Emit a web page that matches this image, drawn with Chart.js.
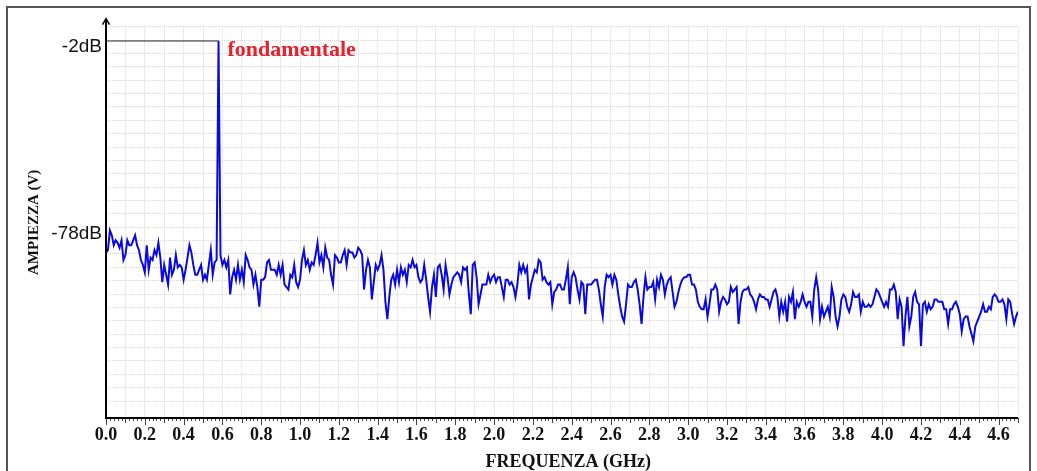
<!DOCTYPE html>
<html>
<head>
<meta charset="utf-8">
<script src="https://cdn.jsdelivr.net/npm/chart.js@4"></script>
<style>
  html, body { margin: 0; padding: 0; background: #fff; }
  #wrap { position: relative; width: 1037px; height: 471px; overflow: hidden; }
  #frame { position: absolute; left: 6px; top: 6px; width: 1025px; height: 480px; border: 2px solid #555; box-sizing: border-box; }
  canvas { position: absolute; left: 0; top: 0; }
</style>
</head>
<body>
<div id="wrap">
  <div id="frame"></div>
  <canvas id="spectrum" width="1037" height="471"></canvas>
</div>
<script>
// --- Data ---
const freqStep = 0.01; // GHz between spectrum bins
const amplitudeDb = [
  -88, -87, -79, -81, -85, -83, -84, -86, -83, -91,
  -89, -83, -85, -85, -83, -81, -85, -87, -91, -93,
  -96, -85, -95, -90, -91, -87, -89, -84, -90, -100,
  -93, -97, -101, -90, -97, -95, -89, -94, -93, -94,
  -99, -95, -90, -85, -88, -93, -97, -97, -95, -93,
  -99, -97, -99, -93, -87, -97, -92, -91, -2, -89,
  -93, -91, -94, -91, -105, -98, -95, -99, -93, -99,
  -95, -100, -89, -91, -94, -95, -101, -97, -102, -110,
  -99, -99, -98, -92, -91, -95, -95, -95, -97, -93,
  -97, -93, -101, -102, -103, -97, -98, -93, -100, -102,
  -99, -91, -87, -93, -91, -95, -92, -93, -89, -84,
  -92, -89, -94, -86, -90, -91, -97, -101, -89, -90,
  -92, -92, -89, -87, -93, -87, -88, -88, -90, -89,
  -86, -87, -89, -103, -95, -91, -94, -107, -100, -93,
  -95, -93, -89, -95, -108, -115, -106, -99, -97, -101,
  -95, -100, -94, -97, -95, -100, -93, -94, -91, -94,
  -93, -98, -100, -99, -93, -99, -106, -112, -102, -97,
  -106, -94, -93, -97, -103, -93, -98, -105, -101, -98,
  -97, -96, -97, -100, -94, -95, -94, -105, -113, -93,
  -92, -98, -109, -105, -101, -101, -101, -97, -100, -98,
  -97, -100, -98, -98, -102, -106, -99, -99, -101, -100,
  -102, -106, -101, -93, -96, -93, -96, -94, -107, -101,
  -98, -95, -96, -91, -92, -99, -98, -100, -101, -100,
  -109, -104, -103, -101, -101, -103, -103, -99, -94, -109,
  -98, -96, -98, -103, -107, -100, -101, -113, -101, -101,
  -101, -100, -99, -99, -103, -109, -114, -102, -97, -98,
  -97, -101, -97, -99, -105, -110, -114, -116, -109, -101,
  -102, -102, -100, -99, -103, -109, -117, -106, -98, -103,
  -102, -102, -100, -107, -99, -102, -97, -99, -105, -101,
  -99, -98, -104, -110, -108, -104, -101, -99, -98, -98,
  -97, -97, -101, -101, -103, -108, -110, -111, -111, -107,
  -114, -109, -103, -103, -101, -103, -112, -108, -106, -107,
  -109, -108, -102, -104, -103, -102, -117, -108, -104, -103,
  -103, -102, -105, -106, -108, -111, -107, -105, -106, -106,
  -107, -107, -110, -107, -104, -103, -106, -114, -108, -112,
  -108, -116, -106, -108, -104, -115, -108, -110, -108, -105,
  -108, -110, -108, -108, -114, -103, -98, -103, -115, -110,
  -114, -112, -110, -114, -102, -106, -114, -118, -114, -107,
  -105, -106, -110, -112, -109, -104, -106, -106, -105, -112,
  -108, -110, -110, -109, -110, -109, -106, -103, -104, -106,
  -108, -110, -108, -110, -103, -103, -101, -104, -115, -107,
  -110, -126, -114, -106, -118, -114, -106, -104, -108, -109,
  -126, -109, -108, -112, -109, -111, -110, -107, -107, -108,
  -108, -108, -111, -111, -117, -111, -111, -109, -108, -110,
  -113, -120, -115, -114, -114, -118, -121, -124, -118, -116,
  -114, -112, -109, -112, -112, -110, -111, -106, -105, -106,
  -108, -108, -107, -109, -115, -107, -108, -113, -117, -114,
  -112
];
const markerFreq = [0, 0.58];   // reference line to the fundamental
const markerDb = [-2, -2];
const yTickValues = [-2, -78];
const yTickLabels = ['-2dB', '-78dB'];
const xTickStep = 0.1;          // grid step, labels on every 0.2 GHz
const xMinorStep = 0.02;        // small tick marks under the axis
const xMax = 4.7;
const yMin = -155.2, yMax = 3.8;
const gridRows = 29.27;         // light horizontal grid rows over the plot

const spectrumPoints = amplitudeDb.map((v, i) => ({ x: +(i * freqStep).toFixed(2), y: v }));
const markerPoints = markerFreq.map((f, i) => ({ x: f, y: markerDb[i] }));

// draws the axes (y with arrow), small x tick marks and the red label
const axesPlugin = {
    id: 'axesPlugin',
    afterDraw(chart) {
        const ctx = chart.ctx;
        const area = chart.chartArea;
        const x = chart.scales.x;
        const y = chart.scales.y;
        ctx.save();
        // x tick marks
        ctx.strokeStyle = '#444';
        ctx.lineWidth = 1;
        const n = Math.round(xMax / xMinorStep);
        for (let i = 0; i <= n; i++) {
            const px = Math.round(x.getPixelForValue(i * xMinorStep)) + 0.5;
            const len = i % 10 === 0 ? 7 : (i % 5 === 0 ? 5 : 3);
            ctx.beginPath();
            ctx.moveTo(px, area.bottom);
            ctx.lineTo(px, area.bottom + len);
            ctx.stroke();
        }
        // x axis line
        ctx.strokeStyle = '#000';
        ctx.lineWidth = 2;
        ctx.beginPath();
        ctx.moveTo(area.left - 1, area.bottom);
        ctx.lineTo(area.right, area.bottom);
        ctx.stroke();
        // y axis line with arrow
        ctx.beginPath();
        ctx.moveTo(area.left, area.bottom + 1);
        ctx.lineTo(area.left, area.top - 8);
        ctx.stroke();
        ctx.lineWidth = 1.5;
        ctx.beginPath();
        ctx.moveTo(area.left - 3.5, area.top - 2);
        ctx.lineTo(area.left, area.top - 8);
        ctx.lineTo(area.left + 3.5, area.top - 2);
        ctx.stroke();
        // label next to the fundamental
        ctx.fillStyle = '#e8202a';
        ctx.font = 'bold 22px "Liberation Serif"';
        ctx.textBaseline = 'alphabetic';
        ctx.textAlign = 'left';
        ctx.fillText('fondamentale', x.getPixelForValue(markerFreq[1]) + 9, y.getPixelForValue(markerDb[1]) + 15.5);
        ctx.restore();
    }
};

const ctx = document.getElementById('spectrum').getContext('2d');

new Chart(ctx, {
    type: 'line',
    data: {
        datasets: [{
            label: 'Spettro',
            data: spectrumPoints,
            borderColor: '#0a0adc',
            borderWidth: 2,
            pointRadius: 0,
            tension: 0,
            fill: false
        }, {
            label: 'Riferimento',
            data: markerPoints,
            borderColor: '#222',
            borderWidth: 1,
            pointRadius: 0,
            fill: false
        }]
    },
    options: {
        responsive: false,
        animation: false,
        devicePixelRatio: 1,
        layout: { padding: { left: 0, right: 19, top: 26.7, bottom: 0 } },
        plugins: {
            legend: { display: false },
            tooltip: { enabled: false }
        },
        scales: {
            x: {
                type: 'linear',
                min: 0,
                max: xMax,
                afterFit: (s) => { s.height = 53; },
                grid: { color: '#d6d6d6', lineWidth: 1, drawTicks: false },
                border: { display: false, dash: [1, 1] },
                ticks: {
                    stepSize: xTickStep,
                    autoSkip: false,
                    maxRotation: 0,
                    padding: 7,
                    color: '#111',
                    font: { family: '"Liberation Serif"', size: 18, weight: 'bold' },
                    callback: (v) => (Math.round(v * 10) % 2 === 0 ? v.toFixed(1) : '')
                },
                title: {
                    display: true,
                    text: '\u2002\u2009FREQUENZA (GHz)',
                    color: '#111',
                    padding: 0,
                    font: { family: '"Liberation Serif"', size: 18, weight: 'bold', lineHeight: 1 }
                }
            },
            y: {
                type: 'linear',
                min: yMin,
                max: yMax,
                afterFit: (s) => { s.width = 106; },
                afterBuildTicks: (s) => { s.ticks = yTickValues.map(v => ({ value: v })); },
                grid: { display: false },
                border: { display: false },
                ticks: {
                    padding: -4,
                    labelOffset: 6,
                    color: '#111',
                    font: { family: '"Liberation Sans"', size: 19 },
                    callback: (v) => yTickLabels[yTickValues.indexOf(v)]
                },
                title: {
                    display: true,
                    text: 'AMPIEZZA (V)',
                    color: '#111',
                    padding: { top: 27 },
                    font: { family: '"Liberation Serif"', size: 15, weight: 'bold', lineHeight: 1 }
                }
            },
            yGrid: {
                type: 'linear',
                position: 'left',
                reverse: true,
                min: 0,
                max: gridRows,
                afterFit: (s) => { s.width = 0; },
                grid: { color: '#d6d6d6', lineWidth: 1, drawTicks: false },
                border: { display: false, dash: [1, 1] },
                ticks: { display: false, stepSize: 1 }
            }
        }
    },
    plugins: [axesPlugin]
});
</script>
</body>
</html>
